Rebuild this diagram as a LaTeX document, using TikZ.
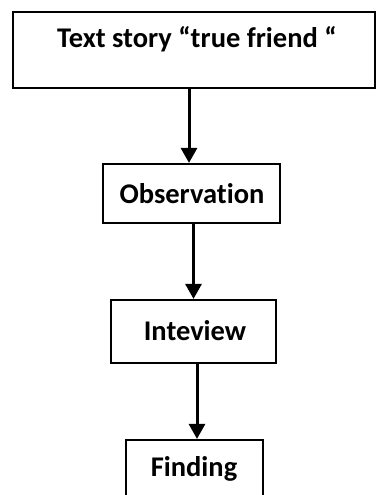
\documentclass[tikz,border=0pt]{standalone}
\usepackage{fontspec}
\setmainfont[Ligatures=NoCommon]{Carlito}
\usetikzlibrary{arrows.meta}
\begin{document}
\begin{tikzpicture}[x=1pt,y=-1pt,
  box/.style={draw, line width=2.2pt, inner sep=0pt},
  lbl/.style={font=\bfseries\fontsize{28.5}{32}\selectfont, inner sep=0pt, anchor=base},
  flow/.style={line width=3pt, -{Triangle[length=15pt,width=16pt]}}]
\useasboundingbox (0,0) rectangle (376,495);
\fill[white] (0,0) rectangle (376,495);
% boxes
\node[box, minimum width=362pt, minimum height=76pt] (top) at (194,50) {};
\node[box, minimum width=177pt, minimum height=59pt] (obs) at (191.5,193.5) {};
\node[box, minimum width=165pt, minimum height=63pt] (int) at (193.5,331.5) {};
\node[box, minimum width=137pt, minimum height=80pt] (fin) at (194.5,480) {};
% labels
\node[lbl] (ttop) at (197,48) {Text story “true friend “};
\node[lbl] (tobs) at (192,203) {Observation};
\node[lbl] (tint) at (195,340) {Inteview};
\node[lbl] (tfin) at (194,476) {Finding};
% connectors
\draw[flow] ([xshift=-2.5pt]top.south -| obs.north) -- ([xshift=-2.5pt]obs.north);
\draw[flow] (obs.south -| int.north) -- (int.north);
\draw[flow] ([xshift=2.5pt]int.south -| fin.north) -- ([xshift=2.5pt]fin.north);
\end{tikzpicture}
\end{document}
